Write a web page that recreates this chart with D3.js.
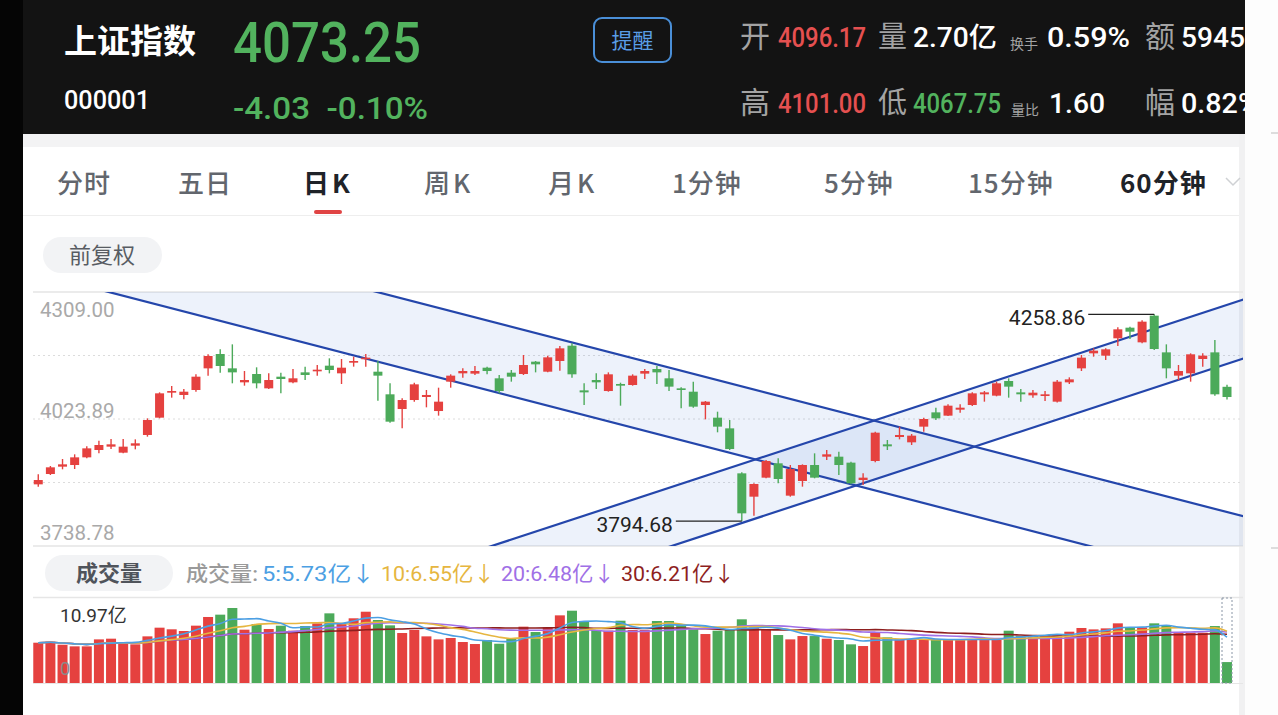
<!DOCTYPE html>
<html><head><meta charset="utf-8">
<script src="https://cdn.jsdelivr.net/npm/d3@7"></script>
<style>body{margin:0;background:#fff;overflow:hidden}svg{display:block}</style>
</head><body>
<svg id="c" width="1278" height="715"></svg>
<script>
// ---------------- DATA ----------------
const opens = [3877.2,3900.4,3916.9,3920.6,3937.8,3954.3,3961.8,3948.3,3964.0,3988.0,
4026.9,4083.0,4077.8,4089.0,4137.6,4169.8,4137.6,4106.2,4124.9,4092.7,
4118.9,4106.2,4128.6,4130.9,4143.6,4126.4,4150.3,4158.6,4130.1,4079.3,
4046.3,4066.5,4073.3,4041.8,4107.7,4126.4,4125.7,4139.1,4115.2,4127.9,
4124.9,4152.6,4130.1,4154.1,4188.5,4088.2,4111.4,4086.7,4102.5,4100.2,
4125.7,4136.1,4115.2,4092.7,4085.2,4055.3,4026.9,4002.9,3901.9,3849.5,
3892.2,3924.4,3851.8,3884.7,3920.6,3939.3,3939.3,3925.9,3886.9,3929.6,
3967.0,3983.5,3971.5,4006.7,4038.8,4031.4,4044.8,4055.3,4079.3,4076.3,
4109.2,4083.7,4077.0,4075.5,4062.8,4106.2,4137.6,4171.3,4166.1,4205.0,
4228.9,4196.0,4255.9,4173.5,4121.2,4126.4,4158.6,4173.5,4096.17];
const closes = [3886.9,3915.4,3922.1,3937.8,3958.0,3965.5,3967.0,3961.8,3969.3,4021.6,
4081.5,4086.7,4085.2,4118.9,4165.3,4142.9,4128.6,4111.4,4104.0,4111.4,
4113.7,4115.2,4122.7,4134.6,4133.9,4139.1,4154.1,4161.6,4121.2,4017.9,
4066.5,4101.7,4077.8,4062.8,4121.2,4131.6,4131.6,4131.6,4086.7,4118.9,
4145.1,4146.6,4162.3,4182.5,4124.2,4083.7,4106.2,4124.2,4098.7,4121.2,
4131.6,4128.6,4096.5,4089.0,4051.6,4062.8,4006.7,3956.5,3812.1,3878.0,
3929.6,3889.2,3911.6,3920.6,3892.2,3944.6,3920.6,3879.5,3892.2,3993.2,
3962.5,3988.0,3986.5,4023.9,4025.4,4053.8,4049.3,4081.5,4083.7,4104.0,
4096.5,4079.3,4083.0,4079.3,4107.7,4112.9,4161.6,4177.3,4180.3,4225.2,
4219.9,4242.4,4181.0,4137.6,4131.6,4169.1,4166.1,4079.3,4073.25];
const highs = [3899.7,3918.4,3934.1,3944.6,3962.5,3975.2,3979.0,3979.0,3978.2,4025.4,
4083.7,4098.0,4091.2,4124.2,4169.1,4180.3,4191.5,4131.6,4139.9,4126.4,
4127.9,4136.1,4141.4,4145.1,4160.1,4158.6,4163.8,4169.8,4154.1,4104.0,
4070.3,4105.4,4089.0,4094.2,4124.2,4137.6,4142.9,4141.4,4122.7,4133.9,
4167.6,4154.1,4166.1,4187.8,4193.7,4104.0,4126.4,4128.6,4105.4,4124.2,
4136.1,4142.9,4133.9,4095.0,4107.7,4064.3,4040.3,4021.6,3904.2,3879.5,
3931.8,3935.6,3920.6,3922.1,3946.8,3954.3,3950.5,3928.1,3901.9,3995.4,
3976.7,4006.7,3990.2,4026.9,4049.3,4056.8,4056.8,4083.7,4086.7,4107.7,
4115.2,4091.2,4089.0,4086.7,4111.4,4117.4,4167.6,4182.5,4182.5,4229.7,
4231.2,4245.4,4258.86,4191.5,4145.1,4171.3,4171.3,4201.2,4101.00];
const lows = [3872.0,3898.2,3910.9,3911.6,3935.6,3946.8,3956.5,3946.8,3955.8,3984.2,
4025.4,4071.8,4068.0,4085.2,4121.2,4127.9,4104.0,4098.7,4092.7,4091.2,
4081.5,4104.0,4111.4,4121.2,4126.4,4102.5,4141.4,4141.4,4065.0,4015.7,
4002.9,4062.8,4050.1,4031.4,4094.2,4116.7,4122.7,4124.2,4081.5,4107.7,
4122.7,4128.6,4128.6,4132.4,4116.7,4055.3,4091.2,4085.2,4053.8,4098.7,
4113.7,4102.5,4086.7,4047.8,4049.3,4023.1,3994.0,3954.3,3794.68,3806.9,
3890.7,3879.5,3849.5,3872.0,3890.7,3931.8,3898.2,3877.2,3875.7,3926.6,
3954.3,3978.2,3965.5,3995.4,4021.6,4030.6,4038.1,4053.1,4062.8,4074.8,
4071.8,4062.8,4071.8,4064.3,4061.0,4102.5,4131.6,4163.8,4156.3,4187.8,
4203.5,4193.7,4178.8,4115.2,4111.4,4107.7,4141.4,4076.3,4067.75];
// volume in 亿
const volumes = [5.20,5.33,4.94,4.73,4.73,5.63,5.72,5.16,4.99,6.02,
7.14,6.93,6.71,7.40,8.52,8.82,9.68,6.88,7.61,6.97,
7.40,6.75,7.35,7.70,8.99,7.61,8.35,9.20,8.13,7.44,
6.45,6.84,6.02,5.63,5.81,5.29,5.03,5.55,5.07,5.76,
7.27,6.58,7.18,8.73,9.33,7.96,6.84,6.75,8.04,6.84,
6.84,8.00,8.00,7.61,6.92,6.32,6.75,6.92,8.22,7.18,
6.92,6.19,5.63,6.06,6.06,5.72,5.55,4.99,4.77,6.54,
5.89,5.60,5.65,5.60,5.62,5.60,5.63,5.60,5.62,5.60,
6.75,6.06,6.19,6.19,6.19,6.62,7.10,6.92,7.05,7.70,
7.18,7.18,7.70,7.48,6.49,6.49,6.49,7.35,2.70];
const priceTicks = [4309.00, 4023.89, 3738.78];
const volMax = 10.97;
// trend channels: [index, price] anchor pairs
const channelDown = [[[0,4349.9],[98,3658.9]], [[0,4505.9],[98,3815.0]]];
const channelUp   = [[[0,3272.5],[98,4147.6]], [[0,3405.0],[98,4280.1]]];
const maPeriods = [5,10,20,30];
const maLegend  = [5.73,6.55,6.48,6.21];
const maColors  = ["#4c9fe3","#e6b640","#a070e6","#8e1f1f"];
const tabs = ["分时","五日","日K","周K","月K","1分钟","5分钟","15分钟","60分钟"];
const tabX = [57,178,303,424,548,672,824,968,1120];

// ---------------- STYLE ----------------
const RED="#e5413f", GREEN="#4caa5a";
const FONT = "Roboto, 'Noto Sans CJK SC', sans-serif";
const CJK = "'Noto Sans CJK SC', Roboto, sans-serif";
const svg = d3.select("#c").style("font-family", FONT);

// page backgrounds
svg.append("rect").attr("x",0).attr("y",0).attr("width",1278).attr("height",715).attr("fill","#fff");
svg.append("rect").attr("x",0).attr("y",0).attr("width",23).attr("height",715).attr("fill","#050505");
svg.append("rect").attr("x",1239).attr("y",134).attr("width",6).attr("height",581).attr("fill","#f1f1f2");
svg.append("rect").attr("x",1245).attr("y",0).attr("width",33).attr("height",715).attr("fill","#fdfdfd");
svg.append("line").attr("x1",1271).attr("x2",1278).attr("y1",133).attr("y2",133).attr("stroke","#bdbdbd");
svg.append("line").attr("x1",1271).attr("x2",1278).attr("y1",548).attr("y2",548).attr("stroke","#bdbdbd");

// ---------------- HEADER ----------------
svg.append("clipPath").attr("id","hclip").append("rect").attr("x",23).attr("y",0).attr("width",1222).attr("height",134);
const hd = svg.append("g").attr("clip-path","url(#hclip)");
hd.append("rect").attr("x",23).attr("y",0).attr("width",1222).attr("height",134).attr("fill","#131313");
hd.append("text").attr("x",64).attr("y",53).attr("fill","#fff").attr("font-size",33).attr("font-weight",700).attr("font-family",CJK).text("上证指数");
hd.append("text").attr("x",233).attr("y",62).attr("fill","#52b35e").attr("font-size",55).attr("font-weight",500).attr("textLength",188).attr("lengthAdjust","spacingAndGlyphs").text("4073.25");
hd.append("text").attr("x",64).attr("y",109).attr("fill","#fff").attr("font-size",25).attr("font-weight",500).attr("textLength",86).attr("lengthAdjust","spacingAndGlyphs").text("000001");
hd.append("text").attr("x",233).attr("y",119).attr("fill","#52b35e").attr("font-size",31).attr("font-weight",500).attr("textLength",195).attr("lengthAdjust","spacingAndGlyphs").attr("xml:space","preserve").text("-4.03  -0.10%");
hd.append("rect").attr("x",594).attr("y",18).attr("width",77).attr("height",44).attr("rx",8).attr("fill","none").attr("stroke","#4a8fd8").attr("stroke-width",2);
hd.append("text").attr("x",632.5).attr("y",48).attr("text-anchor","middle").attr("fill","#5a9de6").attr("font-size",21).attr("font-family",CJK).text("提醒");
function lab(x,y,t,size){ hd.append("text").attr("x",x).attr("y",y).attr("fill","#a3a3a3").attr("font-size",size).attr("font-family",CJK).text(t); }
function val(x,y,t,col,w){ hd.append("text").attr("x",x).attr("y",y).attr("fill",col).attr("font-size",27).attr("font-weight",500).attr("textLength",w).attr("lengthAdjust","spacingAndGlyphs").text(t); }
lab(740,47,"开",30); val(778,47,"4096.17","#e55050",88);
lab(878,47,"量",29); val(913,47,"2.70亿","#fff",84);
lab(1010,49,"换手",14); val(1047,47,"0.59%","#fff",83);
lab(1145,47,"额",30); val(1181,47,"5945","#fff",64);
lab(740,113,"高",30); val(778,113,"4101.00","#e55050",88);
lab(878,113,"低",29); val(913,113,"4067.75","#52b35e",88);
lab(1011,115,"量比",14); val(1049,113,"1.60","#fff",56);
lab(1145,113,"幅",30); val(1181,113,"0.82%","#fff",78);

// ---------------- TABS ----------------
svg.append("rect").attr("x",23).attr("y",134).attr("width",1216).attr("height",13).attr("fill","#f3f3f4");
svg.append("line").attr("x1",23).attr("x2",1239).attr("y1",215.5).attr("y2",215.5).attr("stroke","#eeeeee");
tabs.forEach((t,i)=>{
  const active = (t==="日K"||t==="60分钟");
  svg.append("text").attr("x",tabX[i]).attr("y",193).attr("font-size",26).attr("font-family",CJK)
    .attr("font-weight",active?700:500).attr("fill",active?"#1f2329":"#62666d")
    .attr("letter-spacing",/K/.test(t)?3:1).text(t);
});
svg.append("path").attr("d","M1226,178 l7,7 l7,-7").attr("fill","none").attr("stroke","#cfd1d4").attr("stroke-width",1.5);
svg.append("rect").attr("x",314).attr("y",210).attr("width",28).attr("height",4).attr("rx",2).attr("fill","#e04444");
svg.append("rect").attr("x",43).attr("y",237).attr("width",119).attr("height",36).attr("rx",18).attr("fill","#f2f3f5");
svg.append("text").attr("x",102).attr("y",263).attr("text-anchor","middle").attr("font-size",22).attr("font-family",CJK).attr("fill","#585c63").text("前复权");

// ---------------- PRICE CHART ----------------
const L=33, R=1243, T=292, B=546;
const n = opens.length;
const x = d3.scaleBand().domain(d3.range(n)).range([32.2, 32.2 + 12.13*n]).padding(0);
const step = x.step();
const xc = i => x(0) + step/2 + i*step;   // also valid for fractional/out-of-range indices
const y = d3.scaleLinear().domain([priceTicks[2], priceTicks[0]]).range([B, T]);

svg.append("line").attr("x1",L).attr("x2",R).attr("y1",T).attr("y2",T).attr("stroke","#e4e4e4").attr("stroke-width",1.5);
svg.append("line").attr("x1",L).attr("x2",R).attr("y1",B).attr("y2",B).attr("stroke","#e4e4e4").attr("stroke-width",1.5);
const gridVals = d3.range(1,4).map(k => priceTicks[0] - k*(priceTicks[0]-priceTicks[2])/4);
svg.selectAll(".grid").data(gridVals).join("line").attr("x1",L).attr("x2",R)
  .attr("y1",d=>y(d)).attr("y2",d=>y(d)).attr("stroke","#dcdcdc").attr("stroke-dasharray","2,3");

// channels
svg.append("clipPath").attr("id","pclip").append("rect").attr("x",L).attr("y",T).attr("width",R-L).attr("height",B-T);
const cg = svg.append("g").attr("clip-path","url(#pclip)");
function lineP(seg, i){ const [[i0,p0],[i1,p1]] = seg; return p0 + (p1-p0)*(i-i0)/(i1-i0); }
const iLo = -5, iHi = n+5;
[channelDown, channelUp].forEach(ch=>{
  const pts = [[xc(iLo), y(lineP(ch[0],iLo))],[xc(iHi), y(lineP(ch[0],iHi))],
               [xc(iHi), y(lineP(ch[1],iHi))],[xc(iLo), y(lineP(ch[1],iLo))]];
  cg.append("path").attr("d", d3.line()(pts)+"Z").attr("fill","rgba(60,110,210,0.09)");
});

// candles
const cw = 9;
const cand = svg.append("g").selectAll("g").data(d3.range(n)).join("g");
cand.append("line").attr("x1",i=>xc(i)).attr("x2",i=>xc(i)).attr("y1",i=>y(highs[i])).attr("y2",i=>y(lows[i]))
  .attr("stroke",i=>closes[i]>=opens[i]?RED:GREEN).attr("stroke-width",1.4);
cand.append("rect").attr("x",i=>xc(i)-cw/2).attr("width",cw)
  .attr("y",i=>y(Math.max(opens[i],closes[i])))
  .attr("height",i=>Math.max(1.6, Math.abs(y(opens[i])-y(closes[i]))))
  .attr("fill",i=>closes[i]>=opens[i]?RED:GREEN);

// channel lines over candles
[...channelDown, ...channelUp].forEach(seg=>{
  cg.append("line").attr("x1",xc(iLo)).attr("y1",y(lineP(seg,iLo))).attr("x2",xc(iHi)).attr("y2",y(lineP(seg,iHi)))
    .attr("stroke","#2446ab").attr("stroke-width",2.2);
});

// y labels
svg.append("text").attr("x",40).attr("y",T+25).attr("font-size",20.5).attr("fill","#a9a9a9").text(priceTicks[0].toFixed(2));
svg.append("text").attr("x",40).attr("y",y(priceTicks[1])-1).attr("font-size",20.5).attr("fill","#a9a9a9").text(priceTicks[1].toFixed(2));
svg.append("text").attr("x",40).attr("y",B-6).attr("font-size",20.5).attr("fill","#a9a9a9").text(priceTicks[2].toFixed(2));

// max / min annotations
const iMax = d3.maxIndex(highs), iMin = d3.minIndex(lows);
[[iMax, highs[iMax]],[iMin, lows[iMin]]].forEach(([i,v])=>{
  const yy = y(v);
  svg.append("line").attr("x1",xc(i)-66).attr("x2",xc(i)).attr("y1",yy).attr("y2",yy).attr("stroke","#222").attr("stroke-width",1.2);
  svg.append("text").attr("x",xc(i)-69).attr("y",yy+11).attr("text-anchor","end").attr("font-size",21).attr("fill","#222").text(v.toFixed(2));
});

// ---------------- VOLUME ----------------
svg.append("rect").attr("x",45).attr("y",555).attr("width",128).attr("height",36).attr("rx",18).attr("fill","#f2f3f5");
svg.append("text").attr("x",109).attr("y",581).attr("text-anchor","middle").attr("font-size",22).attr("font-weight",700).attr("font-family",CJK).attr("fill","#50545b").text("成交量");
svg.append("text").attr("x",186).attr("y",581).attr("font-size",21).attr("font-weight",500).attr("fill","#9a9a9a")
  .attr("textLength",72).attr("lengthAdjust","spacingAndGlyphs").text("成交量:");
const legX = [262,381,501,621], legW = [113,114,114,114];
maPeriods.forEach((p,k)=>{
  svg.append("text").attr("x",legX[k]).attr("y",581).attr("font-size",21).attr("fill",maColors[k])
    .attr("textLength",legW[k]).attr("lengthAdjust","spacingAndGlyphs").text(`${p}:${maLegend[k].toFixed(2)}亿↓`);
});
const VT=598, VB=683;
svg.append("line").attr("x1",L).attr("x2",R).attr("y1",597.5).attr("y2",597.5).attr("stroke","#e6e6e6").attr("stroke-width",1.5);
svg.append("line").attr("x1",L).attr("x2",R).attr("y1",VB+0.5).attr("y2",VB+0.5).attr("stroke","#e6e6e6");
const vy = d3.scaleLinear().domain([0, volMax]).range([VB, VT]);
const bw = 10;
svg.append("g").selectAll("rect").data(volumes).join("rect")
  .attr("x",(d,i)=>xc(i)-bw/2).attr("width",bw).attr("y",d=>vy(d)).attr("height",d=>VB-vy(d))
  .attr("fill",(d,i)=>closes[i]>=opens[i]?RED:GREEN);
function ma(arr,p){ return arr.map((v,i)=>d3.mean(arr.slice(Math.max(0,i-p+1), i+1))); }
const vline = d3.line().x((d,i)=>xc(i)).y(d=>vy(d)).curve(d3.curveMonotoneX);
maPeriods.slice().reverse().forEach((p)=>{
  const k = maPeriods.indexOf(p);
  svg.append("path").attr("d", vline(ma(volumes,p))).attr("fill","none").attr("stroke",maColors[k]).attr("stroke-width",1.6);
});
svg.append("text").attr("x",60).attr("y",622).attr("font-size",19).attr("fill","#333").text(volMax.toFixed(2)+"亿");
svg.append("text").attr("x",60).attr("y",675).attr("font-size",18).attr("fill","#8a8a8a").text("0");
svg.append("rect").attr("x",xc(n-1)-5).attr("y",VT).attr("width",10).attr("height",VB-VT)
  .attr("fill","none").attr("stroke","#8a96a6").attr("stroke-dasharray","2,2").attr("stroke-width",1);
</script>
</body></html>
